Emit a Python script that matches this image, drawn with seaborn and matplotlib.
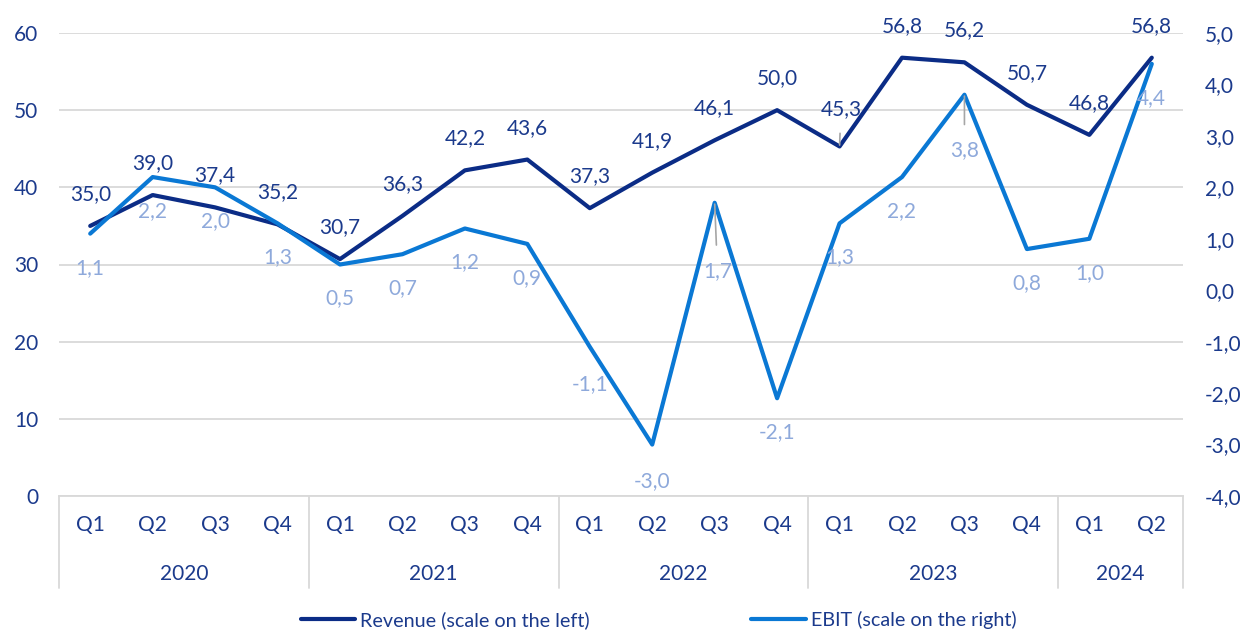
import matplotlib.pyplot as plt
import matplotlib.transforms as mtransforms
from matplotlib.lines import Line2D
import pandas as pd
import seaborn as sns

years = ["2020"] * 4 + ["2021"] * 4 + ["2022"] * 4 + ["2023"] * 4 + ["2024"] * 2
quarters = ["Q1", "Q2", "Q3", "Q4"] * 4 + ["Q1", "Q2"]
revenue = [35.0, 39.0, 37.4, 35.2, 30.7, 36.3, 42.2, 43.6, 37.3, 41.9, 46.1, 50.0,
           45.3, 56.8, 56.2, 50.7, 46.8, 56.8]
ebit = [1.1, 2.2, 2.0, 1.3, 0.5, 0.7, 1.2, 0.9, -1.1, -3.0, 1.7, -2.1,
        1.3, 2.2, 3.8, 0.8, 1.0, 4.4]
left_ticks = [0, 10, 20, 30, 40, 50, 60]
right_ticks = [-4, -3, -2, -1, 0, 1, 2, 3, 4, 5]

NAVY = "#0B2C86"
BLUE = "#0A78D4"
LABEL_NAVY = "#1B3A8C"
LABEL_LIGHT = "#8EA9DB"
GRID = "#D9D9D9"


def fmt(v):
    return f"{v:.1f}".replace(".", ",")


def main():
    df = pd.DataFrame({"x": range(len(revenue)), "revenue": revenue, "ebit": ebit,
                       "year": years, "quarter": quarters})

    sns.set_style("white")
    plt.rcParams["font.family"] = ["Lato", "DejaVu Sans"]

    fig = plt.figure(figsize=(12.45, 6.32), dpi=100)
    ax = fig.add_axes([59 / 1245, 1 - 496 / 632, (1183 - 59) / 1245, 463 / 632])
    ax2 = ax.twinx()

    sns.lineplot(data=df, x="x", y="revenue", ax=ax, color=NAVY, lw=3, legend=False)
    sns.lineplot(data=df, x="x", y="ebit", ax=ax2, color=BLUE, lw=3, legend=False)

    ax.set_xlim(-0.5, len(revenue) - 0.5)
    ax.set_ylim(0, 60)
    ax2.set_ylim(-4, 5)
    ax.set_xlabel("")
    ax.set_ylabel("")
    ax2.set_ylabel("")

    ax.set_yticks(left_ticks)
    ax.set_yticklabels([str(t) for t in left_ticks])
    ax2.set_yticks(right_ticks)
    ax2.set_yticklabels([fmt(t) for t in right_ticks])
    ax.tick_params(axis="y", length=0, pad=15, labelsize=15, labelcolor=LABEL_NAVY)
    ax2.tick_params(axis="y", length=0, pad=16, labelsize=15, labelcolor=LABEL_NAVY)

    ax.set_xticks(df["x"])
    ax.set_xticklabels(quarters)
    ax.tick_params(axis="x", length=0, pad=14, labelsize=15, labelcolor=LABEL_NAVY)

    ax.grid(axis="y", color=GRID, lw=1.3)
    ax.set_axisbelow(True)
    for a in (ax, ax2):
        for s in a.spines.values():
            s.set_visible(False)
    ax.spines["bottom"].set_visible(True)
    ax.spines["bottom"].set_color(GRID)
    ax.spines["bottom"].set_linewidth(1.3)

    # year groups under the quarter labels
    trans = mtransforms.blended_transform_factory(ax.transData, ax.transAxes)
    groups = df.groupby("year", sort=False)["x"]
    bounds = [-0.5]
    for yr, xs in groups:
        ax.text((xs.min() + xs.max()) / 2, -0.168, yr, transform=trans,
                ha="center", va="center", fontsize=15, color=LABEL_NAVY)
        bounds.append(xs.max() + 0.5)
    for b in bounds:
        ax.axvline(b, ymin=-0.199, ymax=0, color=GRID, lw=1.3, clip_on=False)

    # data labels
    rev_special = {12: (1, 27)}
    ebit_special = {10: (2, -49), 14: (0, -40)}
    for i, v in enumerate(revenue):
        off = rev_special.get(i, (0, 23))
        kw = {}
        if i in rev_special:
            kw["arrowprops"] = dict(arrowstyle="-", color="#A6A6A6", lw=1.2,
                                    shrinkA=8, shrinkB=1)
        ax.annotate(fmt(v), (i, v), xytext=off, textcoords="offset points",
                    ha="center", va="center", fontsize=15, color=LABEL_NAVY, **kw)
    for i, v in enumerate(ebit):
        off = ebit_special.get(i, (0, -24.5))
        if i in (8, 9):
            off = (0, -26.5)
        kw = {}
        if i in ebit_special:
            kw["arrowprops"] = dict(arrowstyle="-", color="#A6A6A6", lw=1.2,
                                    shrinkA=9, shrinkB=1)
        ax2.annotate(fmt(v), (i, v), xytext=off, textcoords="offset points",
                     ha="center", va="center", fontsize=15, color=LABEL_LIGHT, **kw)

    handles = [Line2D([], [], color=NAVY, lw=3), Line2D([], [], color=BLUE, lw=3)]
    leg = fig.legend(handles, ["Revenue (scale on the left)", "EBIT (scale on the right)"],
                     loc="center", bbox_to_anchor=(0.529, 0.019), ncol=2, frameon=False,
                     fontsize=14.2, handlelength=2.75, handletextpad=0.25, columnspacing=8.2)
    for t in leg.get_texts():
        t.set_color(LABEL_NAVY)

    fig.savefig("out.png", dpi=100)
    plt.close(fig)


if __name__ == '__main__':
    main()
